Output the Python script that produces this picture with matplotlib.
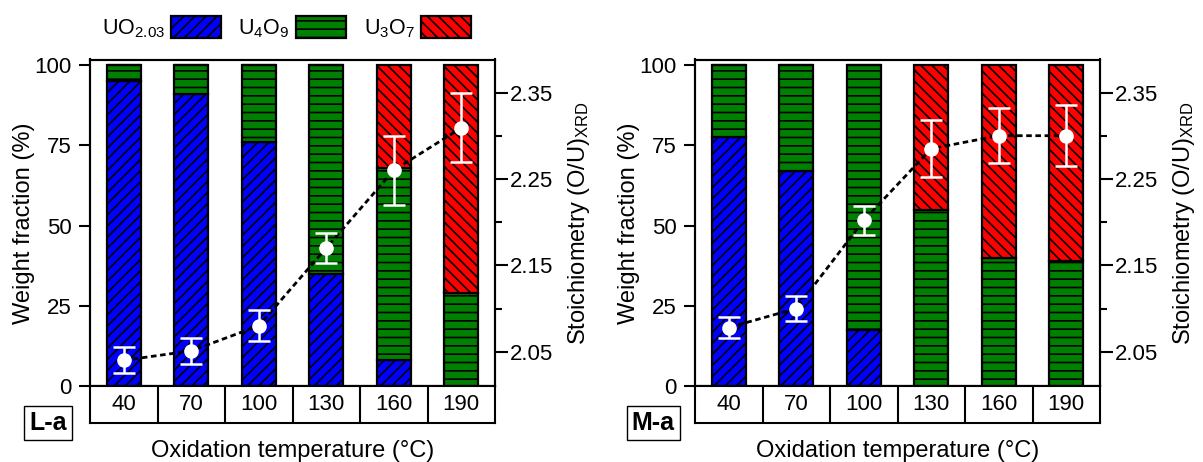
"""Phase fractions (stacked bars) and XRD stoichiometry vs oxidation temperature, L-a and M-a."""
import matplotlib

matplotlib.use("Agg")
import matplotlib.pyplot as plt
from matplotlib.ticker import FixedLocator

plt.rcParams.update({
    "font.family": "Liberation Sans",
    "mathtext.fontset": "custom",
    "mathtext.rm": "Liberation Sans",
    "mathtext.it": "Liberation Sans:italic",
    "hatch.linewidth": 1.2,
    "axes.linewidth": 1.5,
})

TEMPS = ["40", "70", "100", "130", "160", "190"]
PHASES = [r"UO$_{2.03}$", r"U$_4$O$_9$", r"U$_3$O$_7$"]

# L-a: weight fractions (%) and (O/U)_XRD
LA_UO2 = [95, 91, 76, 35, 8, 0]
LA_U4O9 = [5, 9, 24, 65, 60, 29]
LA_U3O7 = [0, 0, 0, 0, 32, 71]
LA_OU = [2.040, 2.051, 2.080, 2.170, 2.260, 2.309]
LA_ERR = [0.015, 0.015, 0.018, 0.017, 0.040, 0.040]

# M-a
MA_UO2 = [77.5, 67, 17.5, 0, 0, 0]
MA_U4O9 = [22.5, 33, 82.5, 55, 40, 39]
MA_U3O7 = [0, 0, 0, 45, 60, 61]
MA_OU = [2.078, 2.100, 2.202, 2.285, 2.300, 2.300]
MA_ERR = [0.0125, 0.014, 0.017, 0.033, 0.032, 0.035]

COLORS = ["#0000ff", "#008000", "#ff0000"]
HATCHES = ["///", "--", "\\\\\\"]

W, H = 1203, 462
fig = plt.figure(figsize=(W / 100, H / 100), dpi=100)


def panel(x0, fracs, ou, err, tag):
    ax = fig.add_axes([x0 / W, 1 - 386 / H, 405 / W, (386 - 59.5) / H])
    xs = list(range(len(TEMPS)))
    bottom = [0] * len(TEMPS)
    handles = []
    for vals, c, h in zip(fracs, COLORS, HATCHES):
        bars = ax.bar(xs, vals, 0.5, bottom=bottom, color=c, edgecolor="k", hatch=h, lw=1.6)
        handles.append(bars)
        bottom = [b + v for b, v in zip(bottom, vals)]
    ax.set_xlim(-0.5, 5.5)
    ax.set_ylim(0, 101.8)
    ax.set_xticks([])
    ax.set_yticks([0, 25, 50, 75, 100])
    ax.tick_params(axis="y", length=8, width=1.5, pad=5, labelsize=16)
    ax.set_ylabel("Weight fraction (%)", fontsize=17, labelpad=0)

    ax2 = ax.twinx()
    ax2.set_ylim(2.0103, 2.3882)
    ax2.set_yticks([2.05, 2.15, 2.25, 2.35])
    ax2.yaxis.set_minor_locator(FixedLocator([2.10, 2.20, 2.30]))
    ax2.tick_params(axis="y", which="major", length=9, width=1.5, pad=2, labelsize=16)
    ax2.tick_params(axis="y", which="minor", length=5, width=1.5)
    ax2.plot(xs, ou, ls=(0, (2.0, 1.3)), color="k", lw=2, zorder=2)
    ax2.errorbar(xs, ou, yerr=err, fmt="o", color="white", mfc="white", mec="white", ms=9.5,
                 capsize=8, elinewidth=1.8, capthick=1.8, zorder=3)
    ax2.set_ylabel(r"Stoichiometry (O/U)$_{\mathrm{XRD}}$", fontsize=17, labelpad=9)

    # temperature table under the bars
    tab = fig.add_axes([x0 / W, 1 - 422.7 / H, 405 / W, 36.7 / H])
    tab.set_xlim(-0.5, 5.5)
    tab.set_ylim(0, 1)
    tab.set_xticks([])
    tab.set_yticks([])
    for b in range(len(TEMPS) - 1):
        tab.axvline(b + 0.5, color="k", lw=1.5)
    for i, t in enumerate(TEMPS):
        tab.text(i, 0.5, t, ha="center", va="center", fontsize=16)

    fig.text((x0 + 202.5) / W, 1 - 457 / H, "Oxidation temperature (°C)",
             ha="center", va="baseline", fontsize=17)
    fig.text((x0 - 42) / W, 1 - 422.5 / H, tag, ha="center", va="center", fontsize=18,
             fontweight="bold",
             bbox=dict(boxstyle="square,pad=0.2", fc="white", ec="k", lw=1))
    return handles


handles = panel(90, [LA_UO2, LA_U4O9, LA_U3O7], LA_OU, LA_ERR, "L-a")
panel(695, [MA_UO2, MA_U4O9, MA_U3O7], MA_OU, MA_ERR, "M-a")

fig.legend(handles, PHASES, loc="center", bbox_to_anchor=(286.5 / W, 1 - 28 / H), ncol=3,
           frameon=False, markerfirst=False, fontsize=15.5, handlelength=2.33, handleheight=1.2,
           handletextpad=0.3, columnspacing=0.8, borderpad=0, borderaxespad=0)

fig.savefig("out.png", dpi=100)
